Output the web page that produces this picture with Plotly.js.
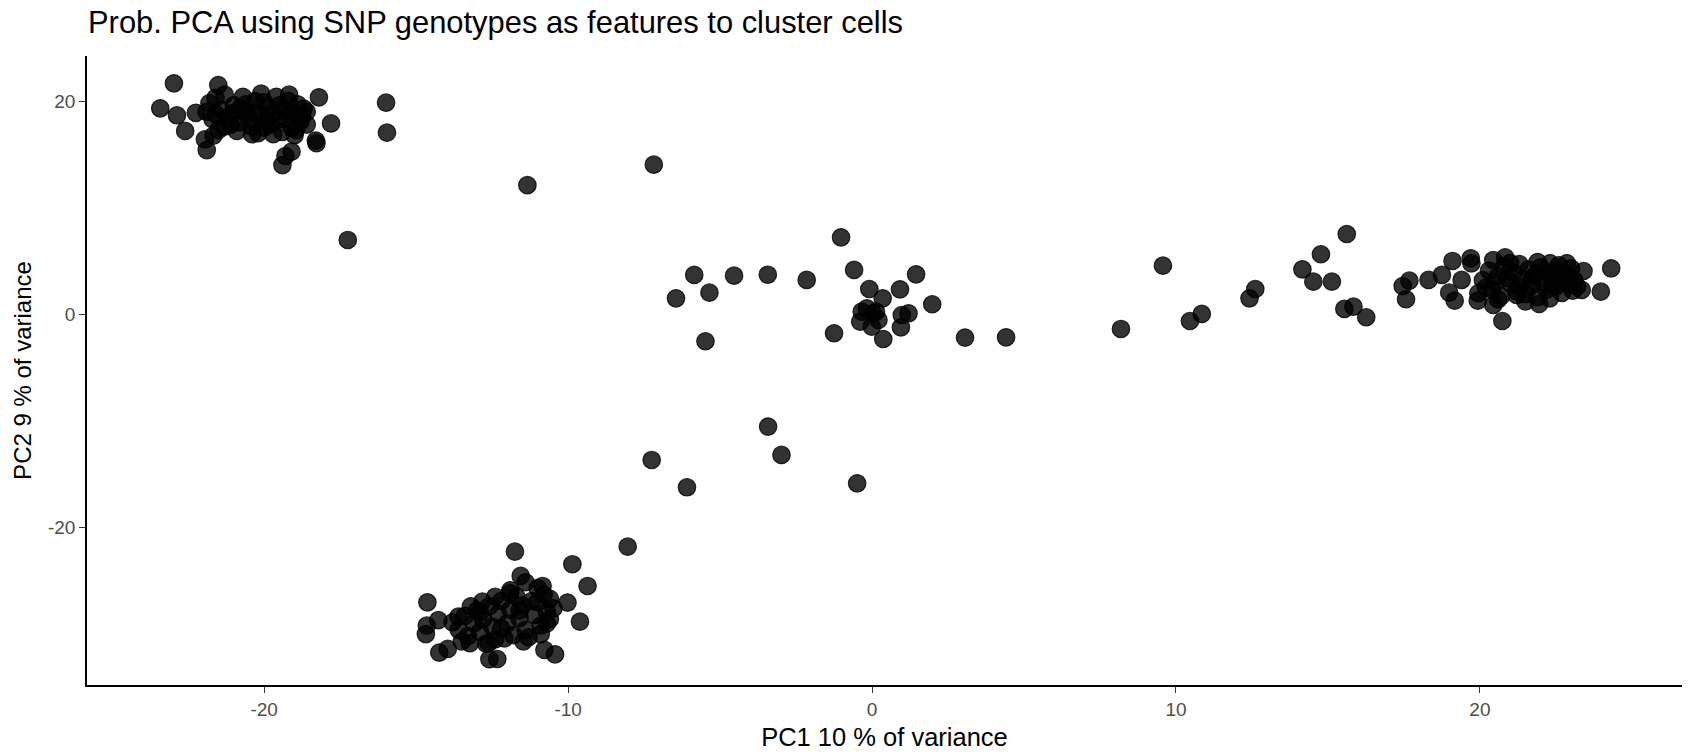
<!DOCTYPE html>
<html>
<head>
<meta charset="utf-8">
<script src="https://cdn.plot.ly/plotly-3.0.1.min.js"></script>
<style>
  html, body { margin: 0; padding: 0; background: #fff; }
  #chart { width: 1688px; height: 754px; }
</style>
</head>
<body>
<div id="chart"></div>
<script>
// ---- Data: PC1 / PC2 coordinates per visual group of cells ----
const topLeftPC1 = [-22.97, -23.42, -22.87, -22.6, -22.25, -21.51, -21.89, -21.95, -21.67, -18.2, -17.8, -18.3, -18.28, -19.1, -19.4, -19.3, -15.99, -15.96, -19.18, -20.1, -17.25,
  -21.8, -21.6, -21.4, -21.2, -21.0, -20.8, -20.6, -20.4, -20.3, -20.1, -19.9, -19.8, -19.6, -19.5, -19.3, -19.1, -19.0, -18.9, -18.8, -18.7, -18.6,
  -21.7, -21.5, -21.3, -20.9, -20.7, -20.5, -20.2, -20.0, -19.7, -19.4, -19.2, -18.95, -18.75, -21.9, -21.0, -20.6, -19.9, -19.5, -20.3, -21.1, -20.0, -19.3, -18.6, -21.6, -20.8, -19.0, -20.4, -21.3, -19.7];
const topLeftPC2 = [21.67, 19.32, 18.67, 17.2, 18.9, 21.5, 15.4, 16.4, 16.75, 20.35, 17.9, 16.3, 16.05, 15.25, 14.0, 14.85, 19.85, 17.04, 20.6, 20.7, 6.97,
  19.8, 20.3, 19.2, 18.5, 19.6, 18.0, 19.0, 17.6, 20.0, 18.7, 19.4, 17.8, 20.4, 18.3, 19.1, 17.5, 18.8, 19.7, 18.1, 19.3, 17.8,
  18.3, 17.3, 20.6, 17.2, 20.4, 18.4, 17.0, 19.9, 18.9, 17.1, 20.0, 17.3, 18.6, 19.0, 18.9, 19.7, 18.2, 19.6, 18.9, 17.8, 17.5, 18.4, 19.0, 18.8, 19.3, 16.8, 16.9, 17.6, 16.9];

const bottomLeftPC1 = [-11.75, -8.04, -9.86, -9.36, -10.02, -9.61, -11.56, -11.4, -10.84, -14.63, -14.65, -14.68, -14.27, -14.24, -13.96, -12.59, -12.33, -10.78, -10.43, -12.82, -11.91, -10.48, -10.7, -11.47, -12.62, -13.23, -13.61,
  -13.8, -13.6, -13.4, -13.3, -13.1, -13.0, -12.9, -12.8, -12.6, -12.5, -12.4, -12.3, -12.2, -12.0, -11.9, -11.8, -11.7, -11.6, -11.5, -11.4, -11.2, -11.1, -11.0, -10.9, -10.8, -10.7, -10.6,
  -13.5, -12.7, -12.1, -11.3, -10.9, -13.2, -12.4, -11.9, -11.0, -10.6, -12.9, -12.2, -11.6];
const bottomLeftPC2 = [-22.27, -21.8, -23.45, -25.49, -27.05, -28.84, -24.55, -25.14, -25.49, -27.02, -29.2, -30.0, -28.7, -31.74, -31.4, -32.36, -32.34, -31.49, -31.9, -26.96, -26.17, -27.58, -29.0, -30.7, -30.86, -30.86, -28.37,
  -28.9, -29.6, -28.3, -30.2, -29.0, -27.8, -29.8, -28.6, -27.4, -29.3, -30.5, -28.1, -26.9, -29.0, -27.7, -30.1, -26.5, -28.5, -27.3, -29.6, -26.9, -28.2, -27.0, -29.2, -26.3, -27.9, -28.6,
  -30.7, -30.9, -30.4, -30.3, -30.0, -27.4, -26.5, -25.9, -25.7, -26.7, -28.0, -29.5, -27.8];

const middlePC1 = [-7.18, -11.34, -1.02, -5.85, -6.45, -5.35, -5.48, -4.54, -3.43, -2.15, -0.59, 1.45, 0.92, -0.09, 0.35, 1.98, -0.34, 0.04, -0.39, -0.01, 0.13, 1.2, 0.98, 0.95, 0.37, -1.25, 3.06, 4.41, -0.17, 0.21,
  -3.42, -2.98, -7.25, -6.09, -0.49];
const middlePC2 = [14.03, 12.11, 7.22, 3.69, 1.5, 2.03, -2.53, 3.62, 3.71, 3.22, 4.16, 3.75, 2.34, 2.37, 1.5, 0.94, 0.24, 0.09, -0.69, -1.16, 0.24, 0.09, -0.07, -1.22, -2.32, -1.78, -2.19, -2.16, 0.56, -0.53,
  -10.54, -13.2, -13.67, -16.23, -15.86];

const rightPC1 = [9.57, 8.19, 10.46, 10.85, 12.42, 12.61, 15.62, 14.77, 14.16, 14.52, 15.13, 15.54, 15.84, 16.26, 17.46, 17.68, 17.57, 18.31, 18.75, 19.1, 18.99, 19.17, 19.7, 19.72, 19.4, 19.93, 20.44, 20.74, 20.44, 20.83, 21.95, 23.41, 24.32, 23.98, 23.35, 23.06, 22.31, 22.86, 21.21, 19.95,
  20.1, 20.3, 20.4, 20.6, 20.7, 20.8, 21.0, 21.1, 21.2, 21.3, 21.4, 21.5, 21.6, 21.7, 21.8, 21.9, 22.0, 22.1, 22.2, 22.3, 22.4, 22.5, 22.6, 22.7, 22.8, 22.9, 23.0, 23.1,
  20.5, 20.9, 21.3, 21.7, 22.1, 22.5, 22.9, 20.2, 21.0, 21.9, 22.6, 20.6, 21.5, 22.3, 23.2];
const rightPC2 = [4.56, -1.38, -0.63, 0.03, 1.5, 2.37, 7.53, 5.63, 4.22, 3.06, 3.06, 0.5, 0.71, -0.28, 2.65, 3.15, 1.41, 3.22, 3.69, 5.0, 2.03, 1.28, 5.25, 4.78, 3.22, 1.28, 0.87, -0.63, 5.09, 5.35, 0.97, 4.06, 4.31, 2.12, 2.28, 2.21, 4.78, 4.78, 1.81, 1.97,
  3.2, 4.1, 2.3, 3.6, 1.7, 4.5, 2.9, 3.9, 2.2, 4.7, 3.3, 1.9, 4.2, 2.7, 3.6, 1.6, 4.4, 3.0, 2.3, 3.8, 2.7, 4.1, 3.3, 2.0, 3.7, 2.9, 4.3, 3.2,
  3.0, 3.4, 2.6, 3.2, 4.0, 2.6, 3.5, 2.5, 4.8, 4.9, 4.6, 1.4, 1.2, 1.5, 2.6];

const xTickVals = [-20, -10, 0, 10, 20];
const yTickVals = [-20, 0, 20];
const xTickText = xTickVals.map(String);
const yTickText = yTickVals.map(String);

const pc1 = [].concat(topLeftPC1, bottomLeftPC1, middlePC1, rightPC1);
const pc2 = [].concat(topLeftPC2, bottomLeftPC2, middlePC2, rightPC2);

const trace = {
  type: 'scatter',
  mode: 'markers',
  x: pc1,
  y: pc2,
  marker: {
    size: 17.5,
    color: 'rgba(0,0,0,0.8)',
    line: { color: 'rgba(0,0,0,0.8)', width: 1.2 }
  },
  hoverinfo: 'x+y',
  showlegend: false
};

const FONT = 'Liberation Sans, Arial, sans-serif';
const tickFont = { family: FONT, size: 19, color: '#4D4D4D' };

const layout = {
  width: 1688,
  height: 754,
  paper_bgcolor: '#fff',
  plot_bgcolor: '#fff',
  margin: { l: 87, r: 6, t: 56, b: 69 },
  title: {
    text: 'Prob. PCA using SNP genotypes as features to cluster cells',
    font: { family: FONT, size: 30.9, color: '#000' },
    x: 88 / 1688, xref: 'container', xanchor: 'left',
    y: 1 - 22 / 754, yref: 'container', yanchor: 'middle'
  },
  xaxis: {
    range: [-25.83, 26.65],
    tickvals: xTickVals,
    ticktext: xTickText,
    ticks: 'outside', ticklen: 6, tickwidth: 1.3, tickcolor: '#333',
    showline: true, linecolor: '#000', linewidth: 1.6,
    showgrid: false, zeroline: false,
    tickfont: tickFont,
    title: { text: 'PC1 10 % of variance', font: { family: FONT, size: 25.5, color: '#000' }, standoff: 10 },
    automargin: false
  },
  yaxis: {
    range: [-34.78, 24.23],
    tickvals: yTickVals,
    ticktext: yTickText,
    ticks: 'outside', ticklen: 6, tickwidth: 1.3, tickcolor: '#333',
    showline: true, linecolor: '#000', linewidth: 1.6,
    showgrid: false, zeroline: false,
    tickfont: tickFont,
    title: { text: 'PC2 9 % of variance', font: { family: FONT, size: 24, color: '#000' }, standoff: 10 },
    automargin: false
  }
};

Plotly.newPlot('chart', [trace], layout, { displayModeBar: false });
</script>
</body>
</html>
